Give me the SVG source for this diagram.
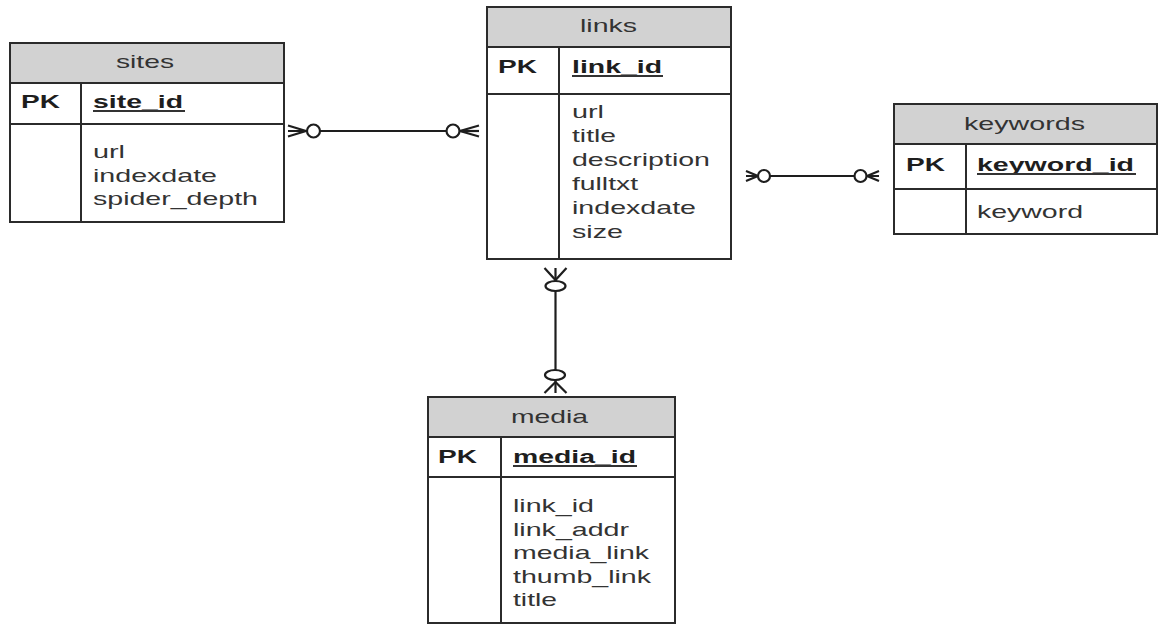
<svg xmlns="http://www.w3.org/2000/svg" width="1159" height="628" viewBox="0 0 1159 628">
<style>
.box{fill:#fff;stroke:#2b2b2b;stroke-width:2}
.hdr{fill:#d2d2d2;stroke:#2b2b2b;stroke-width:2}
.div{stroke:#2b2b2b;stroke-width:2;fill:none}
.t{font-family:"Liberation Sans",Arial,sans-serif;font-size:18.5px;fill:#333}
.b{font-family:"Liberation Sans",Arial,sans-serif;font-size:18px;font-weight:bold;fill:#1e1e1e}
.ul{stroke:#333;stroke-width:2}
.c{stroke:#1e1e1e;stroke-width:2.2;fill:none}
.o{stroke:#1e1e1e;stroke-width:2.2;fill:#fff}
</style>
<rect width="1159" height="628" fill="#fff"/>

<g id="sites">
<rect class="box" x="10" y="43" width="274" height="179"/>
<rect class="hdr" x="10" y="43" width="274" height="40"/>
<line class="div" x1="10" y1="124" x2="284" y2="124"/>
<line class="div" x1="81" y1="83" x2="81" y2="222"/>
<text class="t" x="116" y="68" textLength="58" lengthAdjust="spacingAndGlyphs">sites</text>
<text class="b" x="21" y="108" textLength="39" lengthAdjust="spacingAndGlyphs">PK</text>
<text class="b" x="93" y="108" textLength="90" lengthAdjust="spacingAndGlyphs">site_id</text>
<line class="ul" x1="93" y1="111" x2="185" y2="111"/>
<text class="t" x="93" y="158" textLength="32" lengthAdjust="spacingAndGlyphs">url</text>
<text class="t" x="93" y="182" textLength="124" lengthAdjust="spacingAndGlyphs">indexdate</text>
<text class="t" x="93" y="205" textLength="165" lengthAdjust="spacingAndGlyphs">spider_depth</text>
</g>

<g id="links">
<rect class="box" x="487" y="7" width="244" height="252"/>
<rect class="hdr" x="487" y="7" width="244" height="40"/>
<line class="div" x1="487" y1="94" x2="731" y2="94"/>
<line class="div" x1="559" y1="47" x2="559" y2="259"/>
<text class="t" x="580" y="32" textLength="57" lengthAdjust="spacingAndGlyphs">links</text>
<text class="b" x="498" y="73" textLength="39" lengthAdjust="spacingAndGlyphs">PK</text>
<text class="b" x="572" y="73" textLength="90" lengthAdjust="spacingAndGlyphs">link_id</text>
<line class="ul" x1="572" y1="76" x2="663" y2="76"/>
<text class="t" x="572" y="118" textLength="32" lengthAdjust="spacingAndGlyphs">url</text>
<text class="t" x="572" y="142" textLength="44" lengthAdjust="spacingAndGlyphs">title</text>
<text class="t" x="572" y="166" textLength="138" lengthAdjust="spacingAndGlyphs">description</text>
<text class="t" x="572" y="190" textLength="66" lengthAdjust="spacingAndGlyphs">fulltxt</text>
<text class="t" x="572" y="214" textLength="124" lengthAdjust="spacingAndGlyphs">indexdate</text>
<text class="t" x="572" y="238" textLength="51" lengthAdjust="spacingAndGlyphs">size</text>
</g>

<g id="keywords">
<rect class="box" x="894" y="104" width="263" height="130"/>
<rect class="hdr" x="894" y="104" width="263" height="40"/>
<line class="div" x1="894" y1="189" x2="1157" y2="189"/>
<line class="div" x1="966" y1="144" x2="966" y2="234"/>
<text class="t" x="964" y="130" textLength="121" lengthAdjust="spacingAndGlyphs">keywords</text>
<text class="b" x="906" y="171" textLength="39" lengthAdjust="spacingAndGlyphs">PK</text>
<text class="b" x="977" y="171" textLength="157" lengthAdjust="spacingAndGlyphs">keyword_id</text>
<line class="ul" x1="977" y1="174" x2="1136" y2="174"/>
<text class="t" x="977" y="218" textLength="106" lengthAdjust="spacingAndGlyphs">keyword</text>
</g>

<g id="media">
<rect class="box" x="428" y="397" width="247" height="226"/>
<rect class="hdr" x="428" y="397" width="247" height="40"/>
<line class="div" x1="428" y1="477" x2="675" y2="477"/>
<line class="div" x1="501" y1="437" x2="501" y2="623"/>
<text class="t" x="511" y="423" textLength="77" lengthAdjust="spacingAndGlyphs">media</text>
<text class="b" x="438" y="463" textLength="39" lengthAdjust="spacingAndGlyphs">PK</text>
<text class="b" x="513" y="463" textLength="123" lengthAdjust="spacingAndGlyphs">media_id</text>
<line class="ul" x1="513" y1="466" x2="637" y2="466"/>
<text class="t" x="513" y="512" textLength="81" lengthAdjust="spacingAndGlyphs">link_id</text>
<text class="t" x="513" y="536" textLength="116" lengthAdjust="spacingAndGlyphs">link_addr</text>
<text class="t" x="513" y="559" textLength="136" lengthAdjust="spacingAndGlyphs">media_link</text>
<text class="t" x="513" y="583" textLength="138" lengthAdjust="spacingAndGlyphs">thumb_link</text>
<text class="t" x="513" y="606" textLength="44" lengthAdjust="spacingAndGlyphs">title</text>
</g>

<g id="connectors">
<g id="sites-links">
<line class="c" x1="288" y1="131" x2="447" y2="131"/>
<path class="c" d="M288 125.5 L306 131 L288 136.5"/>
<circle class="o" cx="313.5" cy="131" r="6.5"/>
<path class="c" d="M479 125.5 L460 131 L479 136.5"/>
<line class="c" x1="460" y1="131" x2="479" y2="131"/>
<circle class="o" cx="453" cy="131" r="6.5"/>
</g>
<g id="links-keywords">
<line class="c" x1="746" y1="176" x2="879" y2="176"/>
<path class="c" d="M746 171 L758 176 L746 181"/>
<circle class="o" cx="764" cy="176" r="6"/>
<path class="c" d="M879 171 L867 176 L879 181"/>
<circle class="o" cx="860.5" cy="176" r="6"/>
</g>
<g id="links-media">
<line class="c" x1="555.5" y1="268" x2="555.5" y2="393"/>
<path class="c" d="M544.5 268 L555.5 280 L566.5 268"/>
<ellipse class="o" cx="555.5" cy="286" rx="10" ry="5"/>
<path class="c" d="M544.5 393 L555.5 382 L566.5 393"/>
<ellipse class="o" cx="555" cy="375" rx="10" ry="5"/>
</g>
</g>
</svg>
